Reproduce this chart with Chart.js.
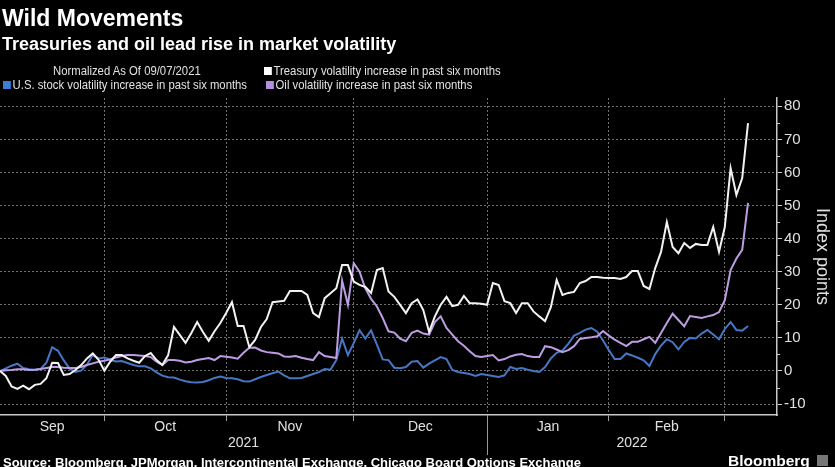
<!DOCTYPE html>
<html>
<head>
<meta charset="utf-8">
<script src="https://cdn.jsdelivr.net/npm/chart.js@4.4.1/dist/chart.umd.min.js"></script>
<style>
body{margin:0;background:#000;width:835px;height:467px;overflow:hidden;position:relative;font-family:"Liberation Sans",Arial,sans-serif;color:#fff}
#c{position:absolute;left:0;top:0}
.t{position:absolute;white-space:nowrap;line-height:1}
#title{left:2px;top:7px;font-size:23px;font-weight:bold}
#sub{left:2px;top:35px;font-size:18px;font-weight:bold}
.lg{font-size:13px;color:#e2e2e2;transform:scaleX(0.87);transform-origin:0 50%}
.sw{display:inline-block;width:9px;height:8px;margin-right:2px}
#src{left:3px;top:456px;font-size:13px;font-weight:bold}
#logo{left:728px;top:453px;font-size:15.5px;font-weight:bold}
#icon{position:absolute;left:817px;top:455px;width:11px;height:11px;background:#777}
</style>
</head>
<body>
<canvas id="c" width="835" height="467"></canvas>
<div class="t" id="title">Wild Movements</div>
<div class="t" id="sub">Treasuries and oil lead rise in market volatility</div>
<div class="t lg" style="left:53px;top:64px">Normalized As Of 09/07/2021</div>
<div class="t lg" style="left:264px;top:64px"><span class="sw" style="background:#ffffff"></span>Treasury volatility increase in past six months</div>
<div class="t lg" style="left:3px;top:78px"><span class="sw" style="background:#3e7fd6"></span>U.S. stock volatility increase in past six months</div>
<div class="t lg" style="left:266px;top:78px"><span class="sw" style="background:#b48ee0"></span>Oil volatility increase in past six months</div>
<div class="t" id="src">Source: Bloomberg, JPMorgan, Intercontinental Exchange, Chicago Board Options Exchange</div>
<div class="t" id="logo">Bloomberg</div>
<div id="icon"></div>
<script>
// weekday series, normalized as of 2021-09-07
var startDate = new Date(2021, 8, 7);
var monthNames = ['Jan','Feb','Mar','Apr','May','Jun','Jul','Aug','Sep','Oct','Nov','Dec'];
var yTicks = [-10, 0, 10, 20, 30, 40, 50, 60, 70, 80];

var treasury = [0,-1.5,-4.7,-5.4,-4.4,-5.5,-4.2,-3.9,-2.2,2.5,
  2.4,-1.2,-0.9,0.3,1.8,3.8,5.3,3.4,0.1,2.8,
  4.8,4.8,3.8,3.1,2.5,4.5,5.4,3.3,1.8,4.8,
  13.3,10.9,8.5,11.5,14.8,11.8,9.1,12.0,14.5,17.5,
  20.8,13.6,13.6,7.2,9.4,13.3,15.7,20.8,21.0,21.2,
  24.2,24.2,24.2,23.0,17.5,16.3,22.0,23.5,25.0,32.0,
  32.0,27.0,26.0,25.4,23.6,30.5,31.1,24.0,22.4,20.0,
  17.5,20.5,21.6,18.4,11.8,16.5,20.0,22.4,19.6,20.0,
  22.7,20.5,20.5,20.3,20.0,26.6,26.0,21.1,20.5,17.5,
  20.5,20.5,18.0,16.5,15.1,19.3,27.5,23.0,23.6,23.9,
  26.6,27.2,28.4,28.4,28.2,28.1,28.1,27.8,28.4,30.2,
  30.2,25.7,24.8,31.1,36.0,45.0,37.5,35.6,38.7,37.2,
  38.4,38.1,38.1,43.5,36.0,43.5,61.3,53.2,58.3,74.9];

var stock = [0,0.8,1.6,2.2,0.9,0.5,0.4,0.6,2.5,7.2,
  6.1,3.2,0.7,-0.3,0.1,1.9,4.8,3.8,4.1,3.4,
  2.9,3.0,2.4,1.8,1.4,1.4,0.8,-0.4,-1.4,-1.9,
  -2.0,-2.6,-3.1,-3.4,-3.5,-3.3,-2.8,-2.1,-1.7,-2.1,
  -2.2,-2.5,-3.1,-3.2,-2.5,-1.8,-1.2,-0.7,-0.2,-1.3,
  -2.2,-2.2,-2.1,-1.5,-0.9,-0.3,0.6,0.4,3.3,9.8,
  4.8,8.4,12.3,9.8,12.3,8.0,3.5,3.3,1.0,0.8,
  1.2,2.8,3.0,1.0,2.2,3.2,4.2,3.6,0.3,-0.3,
  -0.6,-0.9,-1.5,-0.9,-1.2,-1.5,-1.8,-1.3,1.2,0.6,
  0.9,0.4,0.0,-0.3,1.2,3.8,5.5,6.2,8.2,10.7,
  11.5,12.5,13.0,11.9,9.2,6.3,3.6,3.6,5.3,4.7,
  4.0,3.2,1.5,5.1,7.7,9.6,8.7,6.5,8.8,10.0,
  9.8,11.3,12.4,11.0,9.6,12.7,14.8,12.4,12.2,13.6];

var oil = [0,0.2,0.3,0.5,0.5,0.3,0.4,0.6,0.9,1.2,
  1.2,1.0,0.9,0.9,1.2,1.8,2.3,2.8,3.1,3.5,
  4.1,4.5,4.8,4.8,4.7,4.5,4.2,2.8,1.8,3.3,
  3.3,3.1,2.6,2.8,3.3,3.6,3.9,3.3,4.5,4.3,
  4.1,3.7,5.5,7.0,7.1,6.2,5.7,5.5,5.3,4.4,
  4.3,4.5,4.0,3.6,3.3,5.7,4.5,4.2,3.9,27.3,
  20.0,32.6,30.0,25.0,21.8,19.5,16.0,12.0,11.6,9.8,
  9.0,11.5,12.2,11.3,11.0,14.8,16.5,13.0,11.0,9.0,
  7.6,6.0,4.5,4.2,4.5,4.8,3.2,3.6,4.4,4.9,
  5.1,4.5,4.2,4.2,7.5,7.2,6.5,5.7,6.3,7.5,
  9.7,10.0,10.2,10.5,12.1,10.7,9.5,8.5,7.5,8.8,
  8.8,9.6,10.3,8.5,11.5,14.5,17.3,15.4,13.5,16.6,
  16.3,16.0,16.5,16.9,17.8,21.4,30.5,34.0,36.6,50.8];

// weekday dates for each point
var dates = [];
var d = new Date(startDate);
while (dates.length < treasury.length) {
  if (d.getDay() !== 0 && d.getDay() !== 6) dates.push(new Date(d));
  d.setDate(d.getDate() + 1);
}
var monthStarts = [], yearStarts = [];
dates.forEach(function (dt, i) {
  if (i === 0 || dt.getMonth() !== dates[i - 1].getMonth()) monthStarts.push(i);
  if (i === 0 || dt.getFullYear() !== dates[i - 1].getFullYear()) yearStarts.push(i);
});

function pts(arr) { return arr.map(function (v, i) { return {x: i, y: v}; }); }

var FONT = '"Liberation Sans", Arial, sans-serif';
var xMax = 134;

var axisLabels = {
  id: 'axisLabels',
  afterDraw: function (chart) {
    var ctx = chart.ctx, xs = chart.scales.x, ys = chart.scales.y;
    var bottom = chart.chartArea.bottom;
    ctx.save();
    ctx.fillStyle = '#e0e0e0';
    ctx.font = '14px ' + FONT;
    ctx.textAlign = 'center';
    ctx.textBaseline = 'middle';
    monthStarts.forEach(function (s, k) {
      var e = k + 1 < monthStarts.length ? monthStarts[k + 1] : xs.max;
      var l = xs.getPixelForValue(s), r = xs.getPixelForValue(e);
      if (r - l > 60) ctx.fillText(monthNames[dates[s].getMonth()], (l + r) / 2, bottom + 12);
    });
    yearStarts.forEach(function (s, k) {
      var e = k + 1 < yearStarts.length ? yearStarts[k + 1] : xs.max;
      var l = xs.getPixelForValue(s), r = xs.getPixelForValue(e);
      ctx.fillText(String(dates[s].getFullYear()), (l + r) / 2, bottom + 28);
      if (k > 0) {
        ctx.strokeStyle = '#9a9a9a';
        ctx.lineWidth = 1;
        ctx.beginPath();
        ctx.moveTo(Math.round(l) + 0.5, bottom);
        ctx.lineTo(Math.round(l) + 0.5, bottom + 40);
        ctx.stroke();
      }
    });
    // minor ticks on the value axis
    ctx.strokeStyle = '#cccccc';
    ctx.lineWidth = 1;
    yTicks.forEach(function (v) {
      var y = Math.round(ys.getPixelForValue(v + 5)) + 0.5;
      if (v + 5 > ys.max) return;
      ctx.beginPath();
      ctx.moveTo(ys.left, y);
      ctx.lineTo(ys.left + 3, y);
      ctx.stroke();
    });
    ctx.restore();
  }
};

new Chart(document.getElementById('c'), {
  type: 'line',
  data: {
    datasets: [
      {label: 'Treasury volatility increase in past six months', data: pts(treasury), borderColor: '#f2f2f2', borderWidth: 2},
      {label: 'Oil volatility increase in past six months', data: pts(oil), borderColor: '#bd9de2', borderWidth: 2},
      {label: 'U.S. stock volatility increase in past six months', data: pts(stock), borderColor: '#4677c4', borderWidth: 2}
    ]
  },
  options: {
    responsive: false,
    animation: false,
    devicePixelRatio: 1,
    layout: {padding: {top: 98, left: 0, right: 0, bottom: 0}},
    elements: {point: {radius: 0}, line: {tension: 0}},
    plugins: {legend: {display: false}, tooltip: {enabled: false}},
    scales: {
      x: {
        type: 'linear', min: 0, max: xMax,
        afterBuildTicks: function (s) { s.ticks = monthStarts.slice(1).map(function (v) { return {value: v}; }); },
        afterFit: function (s) { s.height = 52; },
        ticks: {display: false},
        grid: {color: '#707070', tickColor: '#a0a0a0', tickLength: 6},
        border: {color: '#c8c8c8', width: 1.5, dash: [2, 2]}
      },
      y: {
        position: 'right', min: -13.3, max: 82.5,
        afterBuildTicks: function (s) { s.ticks = yTicks.map(function (v) { return {value: v}; }); },
        afterFit: function (s) { s.width = 58; },
        ticks: {color: '#e0e0e0', font: {size: 15, family: FONT}, padding: 2},
        grid: {color: '#707070', tickColor: '#cccccc', tickLength: 5},
        border: {color: '#c8c8c8', width: 1.5, dash: [2, 2]},
        title: {display: true, text: 'Index points', color: '#e0e0e0', font: {size: 18, family: FONT}, padding: 2}
      }
    }
  },
  plugins: [axisLabels]
});
</script>
</body>
</html>
